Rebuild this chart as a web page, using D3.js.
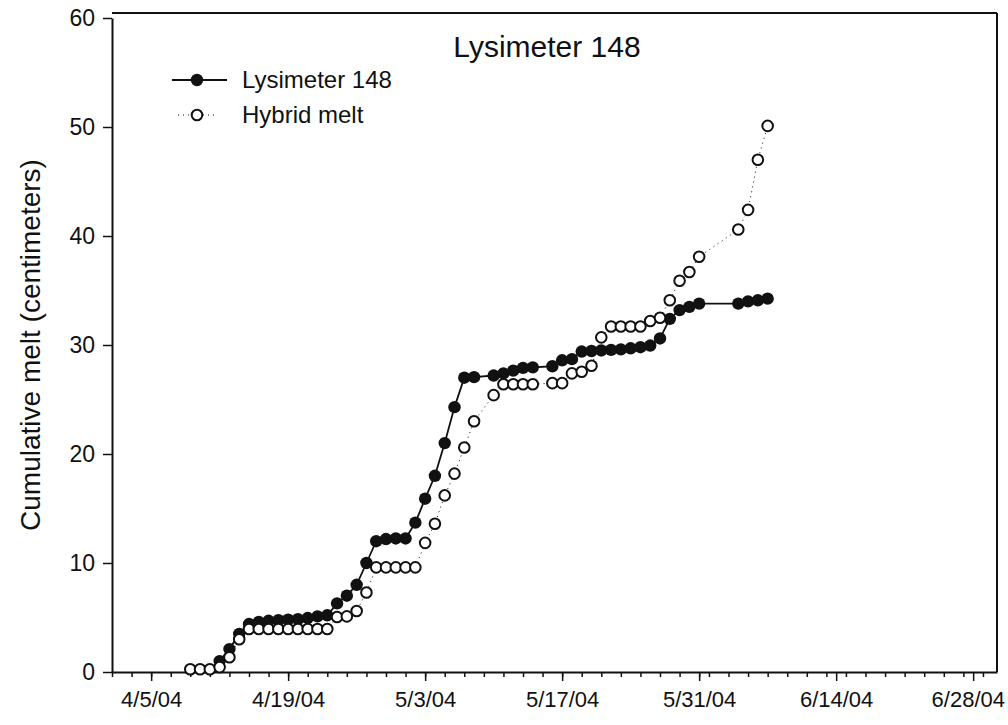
<!DOCTYPE html>
<html>
<head>
<meta charset="utf-8">
<script src="https://cdn.jsdelivr.net/npm/d3@7"></script>
<style>
  body { margin: 0; background: #fff; }
  text { font-family: "Liberation Sans", Arial, sans-serif; fill: #111; }
</style>
</head>
<body>
<svg id="chart" width="1008" height="725"></svg>
<script>
// Lysimeter 148 observed cumulative melt (cm)
const lysDates = ["2004-04-12","2004-04-13","2004-04-14","2004-04-15","2004-04-16","2004-04-17","2004-04-18",
  "2004-04-19","2004-04-20","2004-04-21","2004-04-22","2004-04-23","2004-04-24","2004-04-25","2004-04-26",
  "2004-04-27","2004-04-28","2004-04-29","2004-04-30","2004-05-01","2004-05-02","2004-05-03","2004-05-04",
  "2004-05-05","2004-05-06","2004-05-07","2004-05-08","2004-05-10","2004-05-11","2004-05-12","2004-05-13",
  "2004-05-14","2004-05-16","2004-05-17","2004-05-18","2004-05-19","2004-05-20","2004-05-21","2004-05-22",
  "2004-05-23","2004-05-24","2004-05-25","2004-05-26","2004-05-27","2004-05-28","2004-05-29","2004-05-30",
  "2004-05-31","2004-06-04","2004-06-05","2004-06-06","2004-06-07"];
const lysMelt = [1.0, 2.1, 3.5, 4.4, 4.6, 4.7, 4.75,
  4.8, 4.85, 4.95, 5.1, 5.2, 6.3, 7.0, 8.0,
  10.0, 12.0, 12.2, 12.25, 12.25, 13.7, 15.9, 18.0,
  21.0, 24.3, 27.0, 27.05, 27.2, 27.4, 27.65, 27.9,
  27.95, 28.05, 28.6, 28.7, 29.4, 29.45, 29.5, 29.55,
  29.6, 29.7, 29.8, 29.95, 30.6, 32.4, 33.2, 33.5,
  33.8, 33.8, 34.0, 34.1, 34.25];

// Hybrid melt model cumulative melt (cm)
const hybDates = ["2004-04-09","2004-04-10","2004-04-11","2004-04-12","2004-04-13","2004-04-14","2004-04-15",
  "2004-04-16","2004-04-17","2004-04-18","2004-04-19","2004-04-20","2004-04-21","2004-04-22","2004-04-23",
  "2004-04-24","2004-04-25","2004-04-26","2004-04-27","2004-04-28","2004-04-29","2004-04-30","2004-05-01",
  "2004-05-02","2004-05-03","2004-05-04","2004-05-05","2004-05-06","2004-05-07","2004-05-08","2004-05-10",
  "2004-05-11","2004-05-12","2004-05-13","2004-05-14","2004-05-16","2004-05-17","2004-05-18","2004-05-19",
  "2004-05-20","2004-05-21","2004-05-22","2004-05-23","2004-05-24","2004-05-25","2004-05-26","2004-05-27",
  "2004-05-28","2004-05-29","2004-05-30","2004-05-31","2004-06-04","2004-06-05","2004-06-06","2004-06-07"];
const hybMelt = [0.25, 0.25, 0.25, 0.45, 1.35, 3.0, 3.95,
  3.95, 3.95, 3.95, 3.95, 3.95, 3.95, 3.95, 3.95,
  5.05, 5.1, 5.6, 7.3, 9.6, 9.6, 9.6, 9.6,
  9.6, 11.85, 13.6, 16.2, 18.2, 20.6, 23.0, 25.4,
  26.4, 26.4, 26.4, 26.4, 26.5, 26.5, 27.4, 27.55,
  28.1, 30.7, 31.7, 31.7, 31.7, 31.7, 32.2, 32.5,
  34.1, 35.9, 36.7, 38.1, 40.6, 42.4, 47.0, 50.1];

const xMajor = ["2004-04-05","2004-04-19","2004-05-03","2004-05-17","2004-05-31","2004-06-14","2004-06-28"];
const yTicks = [0, 10, 20, 30, 40, 50, 60];

const parse = d3.timeParse("%Y-%m-%d");
const fmt = d3.timeFormat("%-m/%-d/%y");
const lys = lysDates.map((d, i) => ({ date: parse(d), v: lysMelt[i] }));
const hyb = hybDates.map((d, i) => ({ date: parse(d), v: hybMelt[i] }));

const L = 112, R = 997, T = 18, B = 672;
const svg = d3.select("#chart");

const xStart = parse("2004-04-01");
const xEnd = new Date(2004, 5, 30, 10, 30);
const x = d3.scaleTime().domain([xStart, xEnd]).range([L, R]);
const y = d3.scaleLinear().domain([0, 60]).range([B, T]);

// frame (top + right)
svg.append("line").attr("x1", L).attr("x2", R).attr("y1", 13).attr("y2", 13)
  .attr("stroke", "#111").attr("stroke-width", 2);
svg.append("line").attr("x1", R).attr("x2", R).attr("y1", 13).attr("y2", B)
  .attr("stroke", "#111").attr("stroke-width", 2);

// minor x ticks every 2 days
const minor = d3.timeDay.every(2).range(xStart, xEnd);
svg.append("g").attr("transform", `translate(0,${B})`)
  .call(d3.axisBottom(x).tickValues(minor).tickSize(5).tickFormat(""))
  .call(g => g.select(".domain").remove())
  .selectAll("line").attr("stroke", "#111").attr("stroke-width", 1.5);

const xAxis = svg.append("g").attr("transform", `translate(0,${B})`)
  .call(d3.axisBottom(x).tickValues(xMajor.map(parse)).tickSize(9).tickSizeOuter(0).tickPadding(10).tickFormat(fmt));
xAxis.select(".domain").attr("stroke", "#111").attr("stroke-width", 2);
xAxis.selectAll("line").attr("stroke", "#111").attr("stroke-width", 1.5);
xAxis.selectAll("text").attr("font-size", 22).attr("fill", "#111");
// keep the last label inside the page
xAxis.selectAll("text").each(function () {
  const b = this.getBBox();
  const tx = this.parentNode.transform.baseVal.consolidate().matrix.e;
  const over = tx + b.x + b.width - 1005;
  if (over > 0) d3.select(this).attr("x", -over);
});

const yAxis = svg.append("g").attr("transform", `translate(${L},0)`)
  .call(d3.axisLeft(y).tickValues(yTicks).tickSize(9).tickSizeOuter(0).tickPadding(8));
yAxis.select(".domain").attr("stroke", "#111").attr("stroke-width", 2);
yAxis.selectAll("line").attr("stroke", "#111").attr("stroke-width", 1.5);
yAxis.selectAll("text").attr("font-size", 23).attr("fill", "#111");

svg.append("text")
  .attr("transform", `translate(40,${(T + B) / 2}) rotate(-90)`)
  .attr("text-anchor", "middle")
  .attr("font-size", 28)
  .text("Cumulative melt (centimeters)");

svg.append("text")
  .attr("x", 547).attr("y", 57)
  .attr("text-anchor", "middle")
  .attr("font-size", 30)
  .text("Lysimeter 148");

const line = d3.line().x(d => x(d.date)).y(d => y(d.v));

// hybrid: dotted line (under everything)
svg.append("path").datum(hyb).attr("d", line)
  .attr("fill", "none").attr("stroke", "#111").attr("stroke-width", 1)
  .attr("stroke-dasharray", "1,4");

// lysimeter: solid line + filled circles
svg.append("path").datum(lys).attr("d", line)
  .attr("fill", "none").attr("stroke", "#111").attr("stroke-width", 1.8);
svg.append("g").selectAll("circle").data(lys).join("circle")
  .attr("cx", d => x(d.date)).attr("cy", d => y(d.v)).attr("r", 6.2)
  .attr("fill", "#111");

// hybrid open circles on top
svg.append("g").selectAll("circle").data(hyb).join("circle")
  .attr("cx", d => x(d.date)).attr("cy", d => y(d.v)).attr("r", 5.3)
  .attr("fill", "#fff").attr("stroke", "#111").attr("stroke-width", 2);

// legend
const lg = svg.append("g");
lg.append("line").attr("x1", 172).attr("x2", 227).attr("y1", 80).attr("y2", 80)
  .attr("stroke", "#111").attr("stroke-width", 1.8);
lg.append("circle").attr("cx", 197).attr("cy", 80).attr("r", 6.2).attr("fill", "#111");
lg.append("text").attr("x", 242).attr("y", 88).attr("font-size", 24).text("Lysimeter 148");
lg.append("line").attr("x1", 178).attr("x2", 218).attr("y1", 115).attr("y2", 115)
  .attr("stroke", "#111").attr("stroke-width", 1).attr("stroke-dasharray", "1,4");
lg.append("circle").attr("cx", 197).attr("cy", 115).attr("r", 5.3)
  .attr("fill", "#fff").attr("stroke", "#111").attr("stroke-width", 2);
lg.append("text").attr("x", 242).attr("y", 123).attr("font-size", 24).text("Hybrid melt");
</script>
</body>
</html>
